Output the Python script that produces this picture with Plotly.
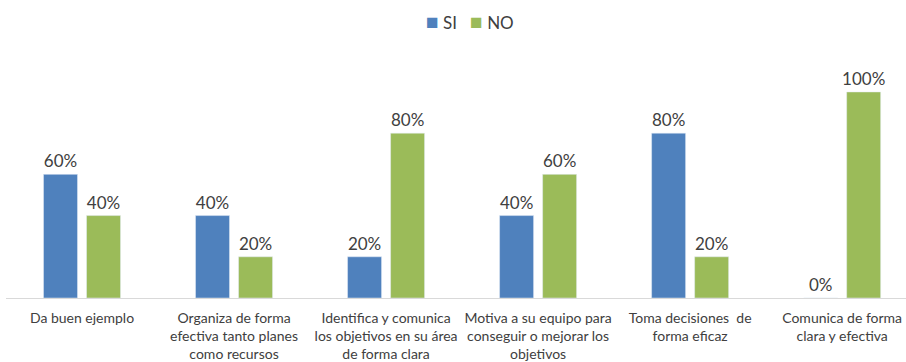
import plotly.graph_objects as go

categories = [
    "Da buen ejemplo",
    "Organiza de forma<br>efectiva tanto planes<br>como recursos",
    "Identifica y comunica<br>los objetivos en su área<br>de forma clara",
    "Motiva a su equipo para<br>conseguir o mejorar los<br>objetivos",
    "Toma decisiones  de<br>forma eficaz",
    "Comunica de forma<br>clara y efectiva",
]
si_values = [60, 40, 20, 40, 80, 0]
no_values = [40, 20, 80, 60, 20, 100]

FONT = "Lato, Open Sans, sans-serif"
TEXT_COLOR = "#404040"
SI_COLOR = "#4F81BD"
NO_COLOR = "#9BBB59"

fig = go.Figure()
fig.add_trace(go.Bar(
    name="SI", x=categories, y=si_values,
    marker_color=SI_COLOR,
    text=[f"{v}%" for v in si_values], textposition="outside",
    textfont=dict(size=17, color=TEXT_COLOR, family=FONT),
    cliponaxis=False,
))
fig.add_trace(go.Bar(
    name="NO", x=categories, y=no_values,
    marker_color=NO_COLOR,
    text=[f"{v}%" for v in no_values], textposition="outside",
    textfont=dict(size=17, color=TEXT_COLOR, family=FONT),
    cliponaxis=False,
))

# compact legend drawn as a single centred line of text
legend_text = (
    f"<span style='color:{SI_COLOR};font-size:21px'>■</span> SI"
    f"&nbsp;&nbsp;&nbsp;<span style='color:{NO_COLOR};font-size:21px'>■</span> NO"
)
fig.add_annotation(
    text=legend_text, xref="paper", yref="paper",
    x=0.516, y=1.168, xanchor="center", yanchor="middle",
    showarrow=False, font=dict(size=17, color=TEXT_COLOR, family=FONT),
)

fig.update_layout(
    width=906, height=362,
    margin=dict(l=6, r=0, t=60, b=64),
    paper_bgcolor="white", plot_bgcolor="white",
    barmode="group", bargap=0.434, bargroupgap=0.21,
    font=dict(family=FONT, color=TEXT_COLOR),
    showlegend=False,
    uniformtext=dict(minsize=17, mode="show"),
)
fig.update_xaxes(
    range=[-0.5, 5.42],
    showline=True, linecolor="#D9D9D9", linewidth=1,
    ticks="", showgrid=False,
    tickfont=dict(size=14, color=TEXT_COLOR, family=FONT),
    tickangle=0, ticklabelstandoff=7,
)
fig.update_yaxes(
    range=[0, 115.5], visible=False, showgrid=False, zeroline=False,
)

fig.write_html("out.html")
